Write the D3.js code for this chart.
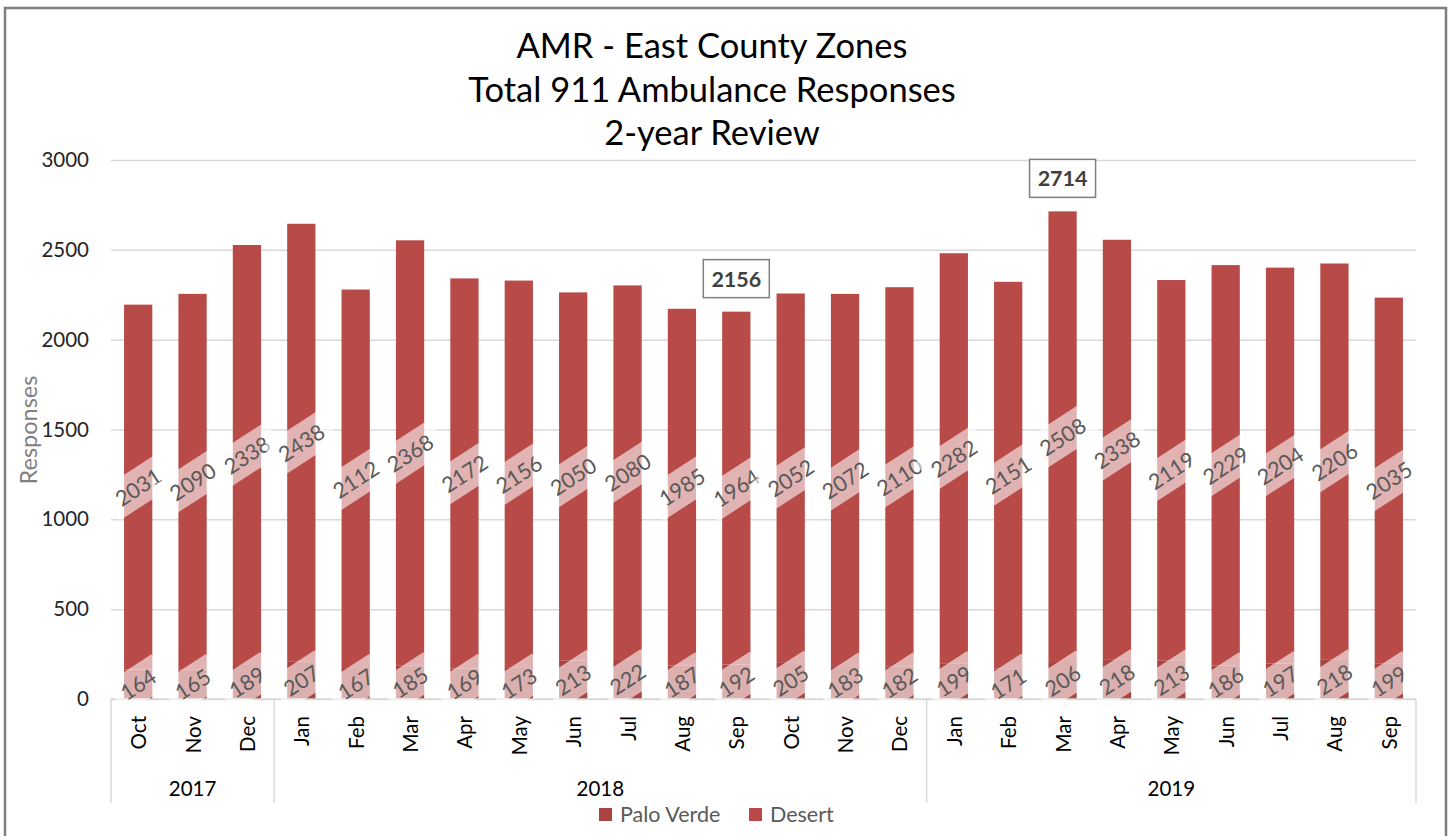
<!DOCTYPE html>
<html>
<head>
<meta charset="utf-8">
<script src="https://cdn.jsdelivr.net/npm/d3@7"></script>
<style>
  html, body { margin: 0; padding: 0; background: #fff; }
  svg text { font-family: Lato, "Noto Sans", sans-serif; }
</style>
</head>
<body>
<div id="chart"></div>
<script>
(function () {
  'use strict';

  const months = ['Oct', 'Nov', 'Dec', 'Jan', 'Feb', 'Mar', 'Apr', 'May', 'Jun', 'Jul', 'Aug', 'Sep',
    'Oct', 'Nov', 'Dec', 'Jan', 'Feb', 'Mar', 'Apr', 'May', 'Jun', 'Jul', 'Aug', 'Sep'];
  const years = ['2017', '2017', '2017', '2018', '2018', '2018', '2018', '2018', '2018', '2018', '2018', '2018',
    '2018', '2018', '2018', '2019', '2019', '2019', '2019', '2019', '2019', '2019', '2019', '2019'];
  const paloVerde = [164, 165, 189, 207, 167, 185, 169, 173, 213, 222, 187, 192,
    205, 183, 182, 199, 171, 206, 218, 213, 186, 197, 218, 199];
  const desert = [2031, 2090, 2338, 2438, 2112, 2368, 2172, 2156, 2050, 2080, 1985, 1964,
    2052, 2072, 2110, 2282, 2151, 2508, 2338, 2119, 2229, 2204, 2206, 2035];
  const yTicks = [0, 500, 1000, 1500, 2000, 2500, 3000];
  const calloutIdx = [11, 17];
  const titleLines = ['AMR - East County Zones', 'Total 911 Ambulance Responses', '2-year Review'];
  const seriesNames = ['Palo Verde', 'Desert'];
  const colors = { 'Palo Verde': '#a94442', 'Desert': '#b84b48' };

  const W = 1450, H = 836;
  const margin = { top: 160, right: 34, bottom: 137, left: 111 };
  const width = W - margin.left - margin.right;
  const height = H - margin.top - margin.bottom;

  const data = months.map((m, i) => ({
    key: i, month: m, year: years[i],
    'Palo Verde': paloVerde[i], 'Desert': desert[i]
  }));

  const svg = d3.select('#chart').append('svg')
    .attr('width', W).attr('height', H);

  // outer chart border
  svg.append('path')
    .attr('d', `M5,${H + 2} L5,8 L1446,8 L1446,${H + 2}`)
    .attr('fill', 'none').attr('stroke', '#7f7f7f').attr('stroke-width', 2.5);

  const g = svg.append('g').attr('transform', `translate(${margin.left},${margin.top})`);

  const x = d3.scaleBand().domain(data.map((d) => d.key)).range([0, width]).paddingInner(0.48).paddingOuter(0.24);
  const y = d3.scaleLinear().domain([0, 3000]).range([height, 0]);

  // title
  svg.append('g').selectAll('text').data(titleLines).enter().append('text')
    .attr('x', 712).attr('y', (d, i) => [58, 102, 145][i])
    .attr('text-anchor', 'middle').attr('fill', '#000')
    .style('font-size', '34.5px').text((d) => d);

  // grid
  const yAxis = g.append('g')
    .call(d3.axisLeft(y).tickValues(yTicks).tickSize(-width).tickPadding(22).tickFormat(d3.format('d')));
  yAxis.select('.domain').remove();
  yAxis.selectAll('.tick line').attr('stroke', '#d9d9d9').attr('stroke-width', 1.5);
  yAxis.selectAll('.tick text').attr('fill', '#262626').style('font-size', '20.5px');

  // y title
  svg.append('text')
    .attr('transform', 'translate(28,430) rotate(-90)')
    .attr('text-anchor', 'middle').attr('dominant-baseline', 'central')
    .attr('fill', '#7f7f7f').style('font-size', '23.5px').text('Responses');

  // stacked bars
  const stacked = d3.stack().keys(seriesNames)(data);
  const layers = g.selectAll('.layer').data(stacked).enter().append('g')
    .attr('fill', (s) => colors[s.key]);
  layers.selectAll('rect').data((s) => s).enter().append('rect')
    .attr('x', (d) => x(d.data.key))
    .attr('width', x.bandwidth())
    .attr('y', (d) => y(d[1]))
    .attr('height', (d) => y(d[0]) - y(d[1]));

  // x axis line
  g.append('line').attr('x1', 0).attr('x2', width).attr('y1', height).attr('y2', height)
    .attr('stroke', '#d9d9d9').attr('stroke-width', 1.5);

  // data labels rotated with translucent box
  const labelAngle = -33;
  stacked.forEach((s) => {
    const lg = g.append('g');
    const items = lg.selectAll('g').data(s).enter().append('g')
      .attr('transform', (d) => `translate(${x(d.data.key) + x.bandwidth() / 2},${y((d[0] + d[1]) / 2)}) rotate(${labelAngle})`);
    items.append('rect')
      .attr('x', (d) => -String(d.data[s.key]).length * 6.5 - 8)
      .attr('width', (d) => String(d.data[s.key]).length * 13 + 16)
      .attr('y', -18).attr('height', 36)
      .attr('fill', '#fff').attr('fill-opacity', 0.58);
    items.append('text')
      .attr('text-anchor', 'middle').attr('dominant-baseline', 'central')
      .attr('fill', '#595959').style('font-size', '21.5px')
      .text((d) => d.data[s.key]);
  });

  // callouts of totals
  const totals = data.map((d) => d['Palo Verde'] + d['Desert']);
  const co = g.selectAll('.callout').data(calloutIdx).enter().append('g')
    .attr('transform', (i) => `translate(${x(i) + x.bandwidth() / 2},${y(totals[i]) - 33})`);
  co.append('rect').attr('x', -33).attr('y', -19).attr('width', 66).attr('height', 38)
    .attr('fill', '#fff').attr('stroke', '#7f7f7f').attr('stroke-width', 1.5);
  co.append('text').attr('text-anchor', 'middle').attr('dominant-baseline', 'central')
    .attr('fill', '#404040').style('font-size', '21.5px').style('font-weight', 'bold')
    .text((i) => totals[i]);

  // month labels
  g.selectAll('.month').data(data).enter().append('text')
    .attr('transform', (d) => `translate(${x(d.key) + x.bandwidth() / 2},${height + 17}) rotate(-90)`)
    .attr('text-anchor', 'end').attr('dominant-baseline', 'central')
    .attr('fill', '#000').style('font-size', '20.5px').text((d) => d.month);

  // year groups
  const groups = d3.groups(data, (d) => d.year).map(([yr, arr]) => ({
    year: yr,
    x0: x(arr[0].key) - x.step() * x.paddingInner() / 2,
    x1: x(arr[arr.length - 1].key) + x.bandwidth() + x.step() * x.paddingInner() / 2
  }));
  const sepX = [groups[0].x0].concat(groups.map((gr) => gr.x1));
  g.selectAll('.sep').data(sepX).enter().append('line')
    .attr('x1', (d) => d).attr('x2', (d) => d)
    .attr('y1', height).attr('y2', height + 104)
    .attr('stroke', '#d9d9d9').attr('stroke-width', 1.5);
  g.selectAll('.year').data(groups).enter().append('text')
    .attr('x', (d) => (d.x0 + d.x1) / 2).attr('y', height + 97)
    .attr('text-anchor', 'middle').attr('fill', '#000').style('font-size', '20.5px')
    .text((d) => d.year);

  // legend
  const legendX = [599, 749];
  const lg = svg.append('g').selectAll('g').data(seriesNames).enter().append('g')
    .attr('transform', (d, i) => `translate(${legendX[i]},808)`);
  lg.append('rect').attr('width', 13).attr('height', 13).attr('fill', (d) => colors[d]);
  lg.append('text').attr('x', 21).attr('y', 14).attr('fill', '#595959')
    .style('font-size', '21.5px').text((d) => d);
})();
</script>
</body>
</html>
